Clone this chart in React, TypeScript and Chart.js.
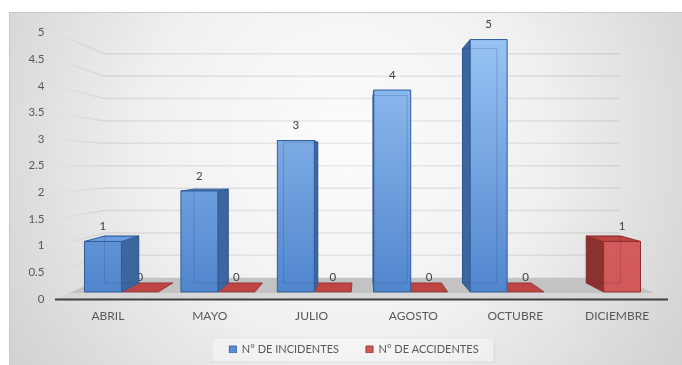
import React, { useEffect, useRef } from "react";
import { Chart, registerables } from "chart.js";

Chart.register(...registerables);

// ---- data ----
const categories = ["ABRIL", "MAYO", "JULIO", "AGOSTO", "OCTUBRE", "DICIEMBRE"];
const incidentes: (number | null)[] = [1, 2, 3, 4, 5, null];
const accidentes: (number | null)[] = [0, 0, 0, 0, 0, 1];
const seriesLabels = ["N° DE INCIDENTES", "N° DE ACCIDENTES"];
const yAxisMin = 0;
const yAxisMax = 5;
const yAxisStep = 0.5;

// ---- style ----
const FONT = "Lato, 'Open Sans', sans-serif";
const TEXT = "#595959";
const T_BAR_FRONT = 0.053;
const T_BAR_BACK = 0.121;
const T_WALL = 0.16;
const T_FLOOR_EDGE = 0.045;
const LEGEND_CENTER = 354;
const LEGEND_LIFT = 12;

const STYLES = [
  { gradTop: "#9ac5f5", gradBottom: "#4f84cc", side: "#3d659e", top: "#6a9ddf", edge: "#2e5d9c", hidden: "rgba(40,60,100,0.22)" },
  { gradTop: "#d96464", gradBottom: "#d05858", side: "#8b3231", top: "#bd4642", edge: "#8e302e", hidden: "rgba(110,30,30,0.22)" },
];

type Pt = [number, number];

const threeD = {
  id: "threeD",
  afterLayout(chart: any) {
    const lg = chart.legend;
    if (lg) {
      const s = LEGEND_CENTER - (lg.left + lg.right) / 2;
      lg.left += s;
      lg.right += s;
      lg.top -= LEGEND_LIFT;
      lg.bottom -= LEGEND_LIFT;
    }
  },
  beforeDraw(chart: any) {
    const { ctx, width, height } = chart;
    ctx.save();
    ctx.fillStyle = "#ffffff";
    ctx.fillRect(0, 0, width, height);
    const bx = 9, by = 12;
    const g = ctx.createRadialGradient(345, 140, 10, 345, 140, 430);
    g.addColorStop(0, "#fcfcfc");
    g.addColorStop(0.45, "#f0f0f0");
    g.addColorStop(1, "#cdcdcd");
    ctx.fillStyle = g;
    ctx.fillRect(bx, by, width - bx, height - by);
    ctx.strokeStyle = "#c9c9c9";
    ctx.lineWidth = 1;
    ctx.strokeRect(bx + 0.5, by + 0.5, width - bx, height - by);
    // legend frame
    const lg = chart.legend;
    if (lg && lg.legendHitBoxes && lg.legendHitBoxes.length) {
      const hb = lg.legendHitBoxes;
      const first = hb[0];
      const last = hb[hb.length - 1];
      const cy = first.top + first.height / 2;
      const l = first.left - 18;
      const r = last.left + last.width + 15;
      ctx.fillStyle = "rgba(255,255,255,0.35)";
      ctx.fillRect(l, cy - 12, r - l, 24);
      ctx.strokeStyle = "rgba(0,0,0,0.06)";
      ctx.strokeRect(l + 0.5, cy - 12 + 0.5, r - l, 24);
    }
    ctx.restore();
  },
  beforeDatasetsDraw(chart: any) {
    const { ctx, chartArea: a, scales } = chart;
    const yS = scales.y;
    const vx = (a.left + a.right) / 2;
    const vy = (a.top + a.bottom) / 2;
    const P = (x: number, y: number, t: number): Pt => [x + (vx - x) * t, y + (vy - y) * t];
    const poly = (pts: Pt[], fill: any, stroke?: string, lw = 1) => {
      ctx.beginPath();
      ctx.moveTo(pts[0][0], pts[0][1]);
      for (let i = 1; i < pts.length; i++) ctx.lineTo(pts[i][0], pts[i][1]);
      ctx.closePath();
      if (fill) {
        ctx.fillStyle = fill;
        ctx.fill();
      }
      if (stroke) {
        ctx.strokeStyle = stroke;
        ctx.lineWidth = lw;
        ctx.stroke();
      }
    };
    const line = (p: Pt, q: Pt, color: any, lw: number) => {
      ctx.beginPath();
      ctx.moveTo(p[0], p[1]);
      ctx.lineTo(q[0], q[1]);
      ctx.strokeStyle = color;
      ctx.lineWidth = lw;
      ctx.stroke();
    };
    ctx.save();
    const left = a.left - 2;
    const right = a.right;
    const y0 = yS.getPixelForValue(0);

    // floor
    poly([P(left, y0, T_FLOOR_EDGE), P(right, y0, T_FLOOR_EDGE), P(right, y0, T_WALL), P(left, y0, T_WALL)], "#c3c3c3");
    poly([P(left, y0, 0), P(right, y0, 0), P(right, y0, T_FLOOR_EDGE), P(left, y0, T_FLOOR_EDGE)], "#d7d7d7");

    // grid lines on left wall and back wall
    yS.ticks.forEach((tk: any) => {
      if (tk.value === 0) return;
      const y = yS.getPixelForValue(tk.value);
      const f = P(left, y, 0);
      const b = P(left, y, T_WALL);
      const e = P(right, y, T_WALL);
      const gr = ctx.createLinearGradient(f[0], 0, b[0], 0);
      gr.addColorStop(0, "rgba(0,0,0,0)");
      gr.addColorStop(1, "rgba(0,0,0,0.08)");
      line(f, b, gr, 1.5);
      line(b, e, "rgba(0,0,0,0.08)", 1.5);
    });

    // axis line
    line([left, y0 + 0.5], [right, y0 + 0.5], "#404040", 1.8);

    // bars, drawn accidents first then incidents
    const order = [1, 0];
    order.forEach((di) => {
      const meta = chart.getDatasetMeta(di);
      const data = chart.data.datasets[di].data;
      const st = STYLES[di];
      const grad = ctx.createLinearGradient(0, a.top, 0, a.bottom);
      grad.addColorStop(0, st.gradTop);
      grad.addColorStop(1, st.gradBottom);
      const labels: { x: number; y: number; text: string }[] = [];
      meta.data.forEach((el: any, i: number) => {
        const v = data[i];
        if (v === null || v === undefined) return;
        const p = el.getProps(["x", "y", "base", "width"], true);
        const x0 = p.x - p.width / 2;
        const x1 = p.x + p.width / 2;
        const yTop = Math.min(p.y, p.base);
        const yBase = Math.max(p.y, p.base);
        const FTL = P(x0, yTop, T_BAR_FRONT), FTR = P(x1, yTop, T_BAR_FRONT);
        const FBL = P(x0, yBase, T_BAR_FRONT), FBR = P(x1, yBase, T_BAR_FRONT);
        const BTL = P(x0, yTop, T_BAR_BACK), BTR = P(x1, yTop, T_BAR_BACK);
        const BBL = P(x0, yBase, T_BAR_BACK), BBR = P(x1, yBase, T_BAR_BACK);
        if (yBase - yTop < 0.5) {
          poly([FBL, FBR, BBR, BBL], st.top, st.edge, 0.8);
        } else {
          if (x1 < vx) poly([FTR, BTR, BBR, FBR], st.side, st.edge, 1);
          if (x0 > vx) poly([FTL, BTL, BBL, FBL], st.side, st.edge, 1);
          if (yTop > vy) poly([FTL, FTR, BTR, BTL], st.top, st.edge, 1);
          poly([FTL, FTR, FBR, FBL], grad, st.edge, 1);
          line(BTL, BBL, st.hidden, 1);
          line(BTR, BBR, st.hidden, 1);
          line(BBL, BBR, st.hidden, 1);
          line(BTL, BTR, st.hidden, 1);
        }
        labels.push({ x: (FTL[0] + FTR[0]) / 2, y: FTL[1] - 15, text: String(v) });
      });
      ctx.fillStyle = "#404040";
      ctx.font = `11.5px ${FONT}`;
      ctx.textAlign = "center";
      ctx.textBaseline = "middle";
      labels.forEach((l) => ctx.fillText(l.text, l.x, l.y));
    });
    ctx.restore();
    return false;
  },
};

export default function App() {
  const ref = useRef<HTMLCanvasElement | null>(null);
  useEffect(() => {
    if (!ref.current) return;
    const chart = new Chart(ref.current, {
      type: "bar",
      data: {
        labels: categories,
        datasets: [
          {
            label: seriesLabels[0],
            data: incidentes,
            backgroundColor: "#5a8dd3",
            borderColor: "#3b6aa8",
            borderWidth: 1,
            categoryPercentage: 0.766,
            barPercentage: 1,
          },
          {
            label: seriesLabels[1],
            data: accidentes,
            backgroundColor: "#d05a5a",
            borderColor: "#9c3a38",
            borderWidth: 1,
            categoryPercentage: 0.766,
            barPercentage: 1,
          },
        ],
      },
      options: {
        responsive: false,
        animation: false,
        layout: { padding: { left: 0, right: 14, top: 32.5, bottom: 0 } },
        scales: {
          x: {
            type: "category",
            offset: true,
            grid: { display: false, drawTicks: false },
            border: { display: false },
            ticks: { color: TEXT, font: { size: 12, family: FONT }, padding: 10, maxRotation: 0, autoSkip: false },
            afterFit: (s: any) => {
              s.height = 30;
            },
          },
          y: {
            min: yAxisMin,
            max: yAxisMax,
            grid: { display: false, drawTicks: false },
            border: { display: false },
            ticks: {
              stepSize: yAxisStep,
              color: TEXT,
              font: { size: 11.5, family: FONT },
              padding: 12.5,
              callback: (v: any) => String(v),
            },
            afterFit: (s: any) => {
              s.width = 57;
            },
          },
        },
        plugins: {
          legend: {
            position: "bottom",
            maxHeight: 36,
            labels: { boxWidth: 7, boxHeight: 7, padding: 27, color: TEXT, font: { size: 11, family: FONT } },
          },
          tooltip: { enabled: false },
        },
      } as any,
      plugins: [threeD as any],
    });
    return () => chart.destroy();
  }, []);
  return (
    <div style={{ position: "absolute", left: 0, top: 0, width: 682, height: 365 }}>
      <canvas ref={ref} width={682} height={365} style={{ display: "block" }} />
    </div>
  );
}
